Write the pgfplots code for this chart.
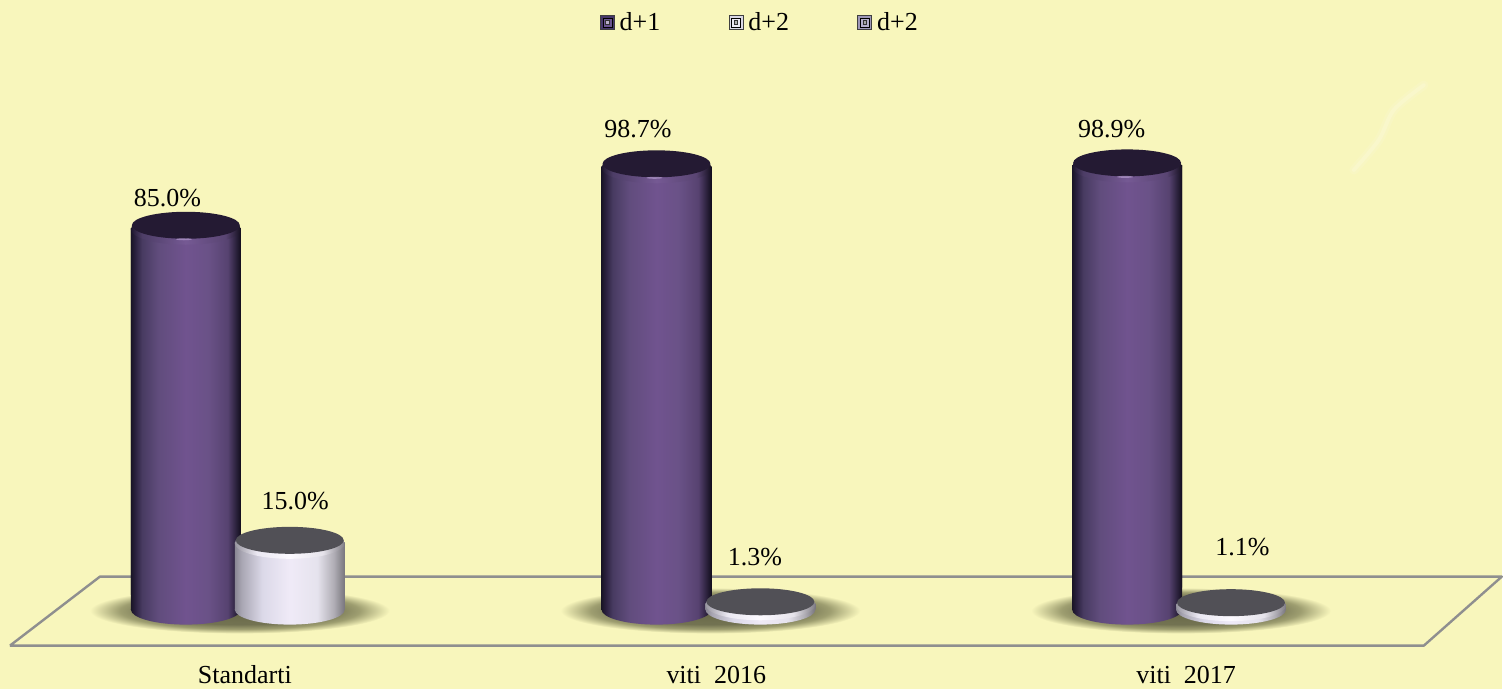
\documentclass[border=0pt]{standalone}
\usepackage{fontspec}
\setmainfont{Liberation Serif}
\usepackage{pgfplots}
\usepackage{pgfplotstable}
\pgfplotsset{compat=1.18}
\definecolor{bgc}{HTML}{F8F6BC}
\definecolor{floorc}{HTML}{8F8F8F}
\definecolor{ptop}{HTML}{241A33}
\definecolor{wtop}{HTML}{515056}
\definecolor{l1a}{HTML}{46366A}
\definecolor{l1b}{HTML}{6A5490}
\definecolor{l1c}{HTML}{B9AECB}
\definecolor{l2a}{HTML}{DAD8E6}
\definecolor{l2b}{HTML}{ECEAF4}
\definecolor{l3a}{HTML}{9E97B8}
\definecolor{l3b}{HTML}{B5AFCB}
\pgfdeclarehorizontalshading{purplecyl}{100bp}{
 rgb(0bp)=(0.10,0.08,0.15); rgb(25bp)=(0.10,0.08,0.15); rgb(27bp)=(0.17,0.13,0.25); rgb(30bp)=(0.28,0.23,0.38);
 rgb(37.5bp)=(0.38,0.30,0.49); rgb(50bp)=(0.44,0.325,0.56); rgb(60bp)=(0.415,0.32,0.53);
 rgb(69bp)=(0.34,0.26,0.44); rgb(72.5bp)=(0.18,0.14,0.25); rgb(75bp)=(0.07,0.05,0.11); rgb(100bp)=(0.07,0.05,0.11)}
\pgfdeclarehorizontalshading{whitecyl}{100bp}{
 rgb(0bp)=(0.54,0.53,0.58); rgb(25bp)=(0.54,0.53,0.58); rgb(28bp)=(0.66,0.65,0.70);
 rgb(37.5bp)=(0.86,0.85,0.91); rgb(50bp)=(0.94,0.92,0.97); rgb(62.5bp)=(0.90,0.89,0.93);
 rgb(70bp)=(0.69,0.68,0.71); rgb(75bp)=(0.47,0.46,0.49); rgb(100bp)=(0.47,0.46,0.49)}
\pgfdeclarehorizontalshading{purplerim}{100bp}{
 rgb(0bp)=(0.12,0.09,0.18); rgb(25bp)=(0.12,0.09,0.18); rgb(30bp)=(0.30,0.24,0.40);
 rgb(50bp)=(0.46,0.35,0.58); rgb(68bp)=(0.35,0.27,0.45); rgb(75bp)=(0.08,0.06,0.12); rgb(100bp)=(0.08,0.06,0.12)}
\pgfdeclarehorizontalshading{whiterim}{100bp}{
 rgb(0bp)=(0.60,0.59,0.63); rgb(25bp)=(0.60,0.59,0.63); rgb(35bp)=(0.92,0.91,0.95);
 rgb(50bp)=(0.99,0.98,1.0); rgb(65bp)=(0.90,0.89,0.92); rgb(75bp)=(0.50,0.49,0.52); rgb(100bp)=(0.50,0.49,0.52)}
\pgfdeclareradialshading{floorshadow}{\pgfpoint{0bp}{0bp}}{
 rgb(0bp)=(0.40,0.40,0.28); rgb(15bp)=(0.45,0.45,0.32); rgb(20bp)=(0.62,0.62,0.44);
 rgb(25bp)=(0.973,0.965,0.737); rgb(50bp)=(0.973,0.965,0.737)}
\pgfdeclareplotmark{shadowmark}{\path[draw=none,shading=floorshadow] (0pt,-1pt) ellipse [x radius=150pt,y radius=23pt];}
\pgfdeclareplotmark{pcyl}{
 \pgfmathsetlengthmacro{\hh}{\yv*4.48995pt}
 \path[draw=none,shading=purplecyl,rotate=8] (0pt,-\hh) ellipse [x radius=55pt,y radius=15pt];
 \path[draw=none,shading=purplecyl] (-55pt,-\hh) rectangle (55pt,0pt);
 \path[draw=none,shading=purplerim,rotate=8] (0pt,-1pt) ellipse [x radius=55pt,y radius=15.5pt];
 \path[draw=none,fill=ptop,rotate=8] (0pt,3pt) ellipse [x radius=54pt,y radius=13.5pt];
 \path[draw=none,fill={rgb,1:red,0.70;green,0.60;blue,0.80},opacity=.7] (-2pt,-11pt) ellipse [x radius=8pt,y radius=1pt];}
\pgfdeclareplotmark{wcyl}{
 \pgfmathsetlengthmacro{\hh}{\yv*4.48995pt}
 \path[draw=none,shading=whitecyl,rotate=8] (0pt,-\hh) ellipse [x radius=55pt,y radius=15pt];
 \path[draw=none,shading=whitecyl] (-55pt,-\hh) rectangle (55pt,0pt);
 \path[draw=none,shading=whiterim,rotate=8] (0pt,-1pt) ellipse [x radius=55pt,y radius=15.5pt];
 \path[draw=none,fill=wtop,rotate=8] (0pt,2pt) ellipse [x radius=54pt,y radius=13.5pt];}
\pgfplotstableread{
x y dx dy
-0.1104 85.0 -18.5 30
0.8896 98.7 -18.5 38
1.8896 98.9 -15.5 37
}\seriesA
\pgfplotstableread{
x y dx dy
0.1104 15.0 5.5 41
1.1104 1.3 -5.5 47
2.1104 1.1 11.5 58
}\seriesB
\newcommand{\legsq}[3]{\path[fill=#1,draw=black!75,line width=.7pt] (0pt,-7pt) rectangle (14pt,7pt);
 \path[fill=#2] (2.6pt,-4.4pt) rectangle (11.4pt,4.4pt);
 \path[fill=#3,draw=black!80,line width=.8pt] (5.2pt,-1.8pt) rectangle (8.8pt,1.8pt);}
\newcommand{\fs}{\fontsize{26}{30}\selectfont}
\begin{document}
\begin{tikzpicture}
\begin{axis}[
 scale only axis, width=1503pt, height=689pt,
 xmin=-0.50531, xmax=2.68577, ymin=-17.594, ymax=135.86,
 axis line style={draw=none}, major tick length=0pt,
 axis background/.style={fill=bgc},
 ytick=\empty,
 xtick={0.015,1.0167,2.015},
 xticklabels={Standarti,viti~~2016,viti~~2017},
 xticklabel style={font=\fs,anchor=base,yshift=5pt},
 legend style={at={(axis cs:0.7695,133.5)},anchor=north west,draw=none,fill=none,
   legend columns=3,font=\fs,inner sep=0pt,outer sep=0pt,
   /tikz/every odd column/.style={column sep=3pt},
   /tikz/every even column/.style={column sep=66.5pt}},
 /pgf/number format/assume math mode=true,
 clip=false,
 nodes near coords style={font=\fs},
]
\addlegendimage{legend image code/.code={\legsq{l1a}{l1b}{l1c}}}
\addlegendentry{d+1}
\addlegendimage{legend image code/.code={\legsq{l2a}{l2b}{gray!60}}}
\addlegendentry{d+2}
\addlegendimage{legend image code/.code={\legsq{l3a}{l3b}{gray!70}}}
\addlegendentry{d+2}
% floor
\addplot[forget plot,floorc,line width=2.4pt,line join=round] coordinates {(-0.4841,-8.02) (2.5202,-8.02) (2.6858,7.35) (-0.2930,7.35) (-0.4841,-8.02)};
% glare
\addplot[forget plot,smooth,white,opacity=.1,line width=9pt,line cap=round] coordinates {(2.520,116.9) (2.4565,111.4) (2.4246,104.7) (2.3715,98.0)};
\addplot[forget plot,smooth,white,opacity=.15,line width=4pt,line cap=round] coordinates {(2.520,116.9) (2.4565,111.4) (2.4246,104.7) (2.3715,98.0)};
% bars
\addplot[forget plot,ybar,bar width=110pt,bar shift=0pt,draw=none,shading=purplecyl] coordinates {(-0.1104,85.0)};
\addplot[forget plot,ybar,bar width=110pt,bar shift=0pt,draw=none,shading=purplecyl] coordinates {(0.8896,98.7)};
\addplot[forget plot,ybar,bar width=110pt,bar shift=0pt,draw=none,shading=purplecyl] coordinates {(1.8896,98.9)};
\addplot[forget plot,ybar,bar width=110pt,bar shift=0pt,draw=none,shading=whitecyl] coordinates {(0.1104,15.0)};
\addplot[forget plot,ybar,bar width=110pt,bar shift=0pt,draw=none,shading=whitecyl] coordinates {(1.1104,1.3)};
\addplot[forget plot,ybar,bar width=110pt,bar shift=0pt,draw=none,shading=whitecyl] coordinates {(2.1104,1.1)};
% shadows
\addplot[forget plot,only marks,mark=shadowmark] coordinates {(0.004,0) (1.004,0) (2.004,0)};
% series 1
\addplot[forget plot,only marks,mark=pcyl,
  point meta=y,
  visualization depends on={y\as\yv},
  visualization depends on={\thisrow{dx}\as\dx},
  visualization depends on={\thisrow{dy}\as\dy},
  nodes near coords={\pgfmathprintnumber[fixed,fixed zerofill,precision=1]{\pgfplotspointmeta}\%},
  every node near coord/.append style={anchor=center,xshift=\dx pt,yshift=\dy pt,font=\fs},
 ] table[x=x,y=y] {\seriesA};
% series 2
\addplot[forget plot,only marks,mark=wcyl,
  point meta=y,
  visualization depends on={y\as\yv},
  visualization depends on={\thisrow{dx}\as\dx},
  visualization depends on={\thisrow{dy}\as\dy},
  nodes near coords={\pgfmathprintnumber[fixed,fixed zerofill,precision=1]{\pgfplotspointmeta}\%},
  every node near coord/.append style={anchor=center,xshift=\dx pt,yshift=\dy pt,font=\fs},
 ] table[x=x,y=y] {\seriesB};
\end{axis}
\end{tikzpicture}
\end{document}
